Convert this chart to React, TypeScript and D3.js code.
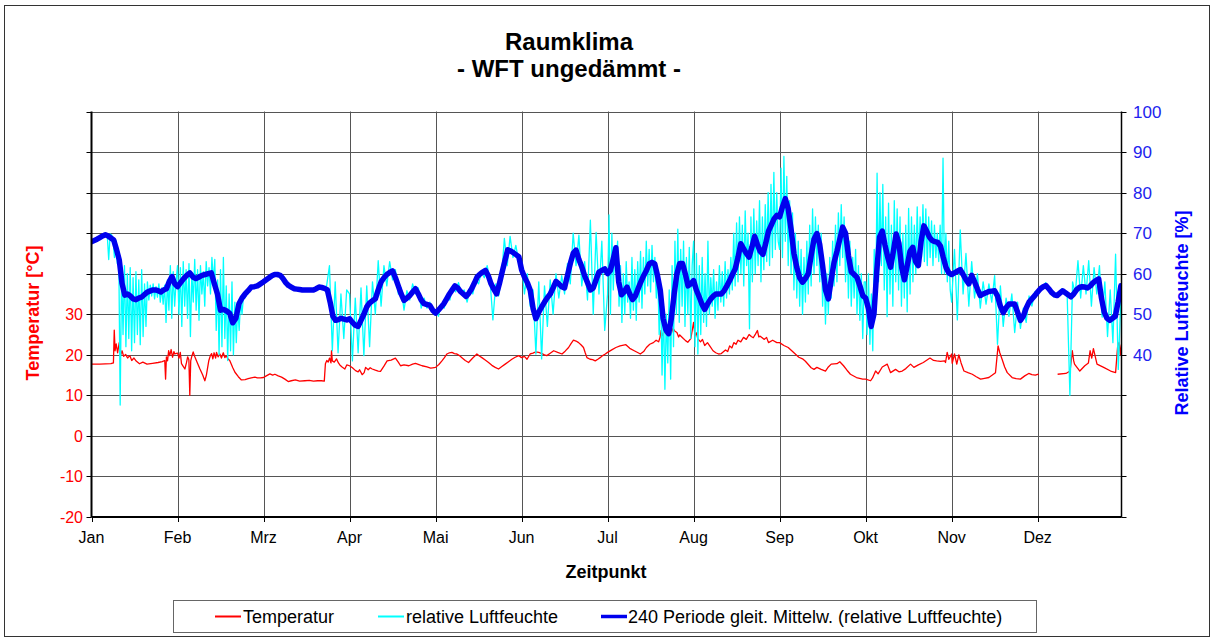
import React from "react";
import * as d3 from "d3";

// ---------- axis / category data ----------
const months = ["Jan", "Feb", "Mrz", "Apr", "Mai", "Jun", "Jul", "Aug", "Sep", "Okt", "Nov", "Dez"];
const monthDays = [31, 28, 31, 30, 31, 30, 31, 31, 30, 31, 30, 31];
const tempTickLabels = [-20, -10, 0, 10, 20, 30];
const rhTickLabels = [40, 50, 60, 70, 80, 90, 100];

// ---------- Temperatur [°C] : [Tag im Monat, Wert] ----------
const tempJan = [[1,17.7],[4,17.7],[8,17.8],[8.9,18.0],[9.2,26.1],[9.5,21.0],[9.9,22.7],[10.4,20.5],[11,23.0],[11.4,19.7],[12,21.0],[12.6,19.6],[13.3,20.1],[14,19.2],[14.8,19.8],[15.5,18.6],[16.3,19.2],[17.2,18.4],[18.3,17.8],[19.5,18.2],[21,17.7],[23,17.9],[25,18.1],[26.5,18.3],[27.4,18.6],[27.7,14.0],[28,19.5],[28.4,18.5],[28.8,21.0],[29.2,19.8],[29.7,21.3],[30.2,19.4],[30.7,20.8],[31,20.2]];
const tempFeb = [[1,20.4],[1.5,19.2],[1.9,20.6],[2.3,17.8],[2.8,17.2],[3.4,16.5],[3.9,18.0],[4.3,19.5],[4.7,18.8],[5,10.0],[5.3,18.5],[5.6,19.5],[6.1,20.7],[6.6,19.6],[7.2,18.5],[8.3,16.5],[9.2,15.0],[9.9,13.6],[10.4,15.0],[11.2,18.6],[11.7,19.8],[12.1,20.3],[12.5,19.0],[12.9,20.5],[13.4,19.2],[13.7,20.6],[14.2,19.5],[14.8,20.2],[15.3,19.2],[15.9,20.5],[16.4,19.3],[16.9,19.8],[17.4,19.0],[18,18.6],[19,16.8],[19.7,15.7],[20.8,14.6],[21.8,13.8],[23,13.9],[24,14.1],[25,14.3],[26.2,14.5],[27,14.3],[28,14.3]];
const tempMar = [[1,14.4],[2,14.8],[3.3,15.3],[4.3,15.0],[5.1,15.2],[6.3,14.8],[7.5,14.5],[8.7,14.0],[9.9,13.4],[11,13.6],[12.5,13.8],[14,13.5],[15.9,13.6],[17.5,13.7],[19,13.5],[20.5,13.6],[21.9,13.6],[22.9,13.5],[23.3,17.8],[23.8,18.6],[24.3,18.2],[24.8,19.2],[25.3,18.0],[25.5,21.0],[25.8,18.5],[26.5,18.2],[27.3,19.0],[28,18.0],[28.5,17.5],[29.3,17.0],[30.3,16.5],[31,17.5]];
const tempApr = [[1,17.3],[2,16.8],[3.1,16.1],[4,15.8],[4.5,16.3],[5.4,15.1],[6.1,15.6],[6.6,16.9],[7.5,16.3],[8.2,16.8],[8.9,16.5],[10,16.2],[11,16.0],[11.8,15.9],[13,17.2],[14.1,18.5],[15.5,18.7],[17,19.2],[18,18.2],[18.8,17.3],[20,17.5],[21.7,17.3],[23,17.7],[24,17.9],[25.2,17.6],[26.3,17.3],[28,17.0],[29.3,16.7],[30,16.8]];
const tempMai = [[1,16.9],[2.2,17.6],[3.3,18.5],[4.2,19.3],[5.1,20.2],[6,20.5],[6.9,20.6],[7.8,20.3],[8.7,20.2],[9.6,19.8],[10.5,19.3],[11.7,18.6],[12.9,18.1],[14.4,19.2],[15.9,20.2],[16.8,19.7],[17.7,19.3],[18.9,18.7],[20.1,18.1],[21.3,17.4],[22.5,16.9],[23.7,16.5],[24.9,17.1],[26.1,17.7],[27.3,18.3],[28.5,18.9],[29.7,19.4],[31,19.8]];
const tempJun = [[1,19.3],[2,19.6],[2.9,18.9],[4,20.2],[5,20.4],[5.8,20.7],[7,20.6],[8.1,20.3],[9,20.0],[9.8,19.8],[11,20.4],[12.2,21.0],[13.6,20.6],[15.1,20.2],[16.2,20.9],[17.4,21.8],[18.3,22.8],[19.1,23.6],[20,23.4],[20.9,23.0],[21.8,22.4],[22.6,21.8],[23.2,20.5],[23.8,19.3],[24.9,18.9],[25.8,18.8],[26.7,18.5],[27.6,18.9],[28.4,19.3],[29.3,19.8],[30.2,20.2]];
const tempJul = [[1,20.6],[2.5,21.2],[4,21.8],[5.5,22.2],[7.6,22.5],[9,21.6],[10.6,21.0],[12,20.5],[12.8,20.2],[14,20.8],[15,21.8],[16.2,22.6],[17.5,23.0],[18.5,23.6],[19.4,23.2],[19.9,24.3],[20.3,26.0],[20.8,24.7],[21.4,25.6],[22,25.3],[22.6,24.6],[23.2,26.0],[24,25.4],[24.6,26.5],[25.3,25.8],[26,25.5],[26.6,24.4],[27,24.9],[28.3,24.0],[29.1,23.5],[29.9,23.1],[31,24.0]];
const tempAug = [[1,28.0],[1.5,24.7],[2,25.4],[2.5,24.0],[3.5,23.2],[4.2,23.8],[5,22.3],[6,23.0],[7,22.0],[8,21.0],[9,20.5],[10,20.2],[11,20.3],[12.5,21.2],[13.3,20.8],[14,22.2],[14.8,21.7],[15.5,23.0],[16.3,22.6],[17,23.6],[18,23.2],[19,24.3],[20,23.8],[21,25.0],[21.8,24.5],[22.5,24.2],[23.3,25.1],[24,26.0],[24.5,24.4],[25,24.6],[26.5,23.8],[27.3,24.3],[28,23.0],[29.5,23.6],[31,23.0]];
const tempSep = [[1,23.0],[2.5,22.3],[4,21.8],[6,20.5],[7.7,19.4],[9,19.0],[10,18.4],[12,16.8],[13,16.4],[14,16.9],[15.5,16.4],[17,16.0],[18,17.0],[19,17.7],[21,17.8],[22,18.3],[23.3,17.3],[24.5,16.2],[25.7,15.2],[27.8,14.4],[30,14.0]];
const tempOkt = [[1,14.0],[2.8,13.6],[3.5,14.3],[4.6,16.0],[5.5,15.3],[7,17.0],[8.8,17.7],[10,15.6],[11.8,16.4],[13,15.8],[14.2,16.0],[15.5,16.6],[17.2,17.7],[18.4,16.9],[20,17.5],[21.8,18.1],[24.2,19.2],[25.5,18.6],[26.6,18.5],[28,18.4],[29.5,18.5],[29.8,18.1],[30.4,20.6],[31,18.9]];
const tempNov = [[1,20.2],[1.2,17.9],[2,20.2],[2.8,17.7],[3.5,20.0],[4.3,18.0],[5.3,16.0],[6.7,15.6],[8.2,15.2],[9.6,14.6],[11.1,14.0],[12.5,14.2],[14,14.4],[15.2,15.0],[16.3,15.6],[17.2,22.2],[17.8,20.5],[18.6,18.9],[19.5,17.0],[20.4,15.6],[22.1,14.4],[23.5,14.1],[25,14.0],[26.5,14.8],[27.9,15.4],[29,15.1],[30.2,15.0]];
const tempDez = [[1,15.2],[1.4,15.1],[1.5,NaN],[8.2,15.2],[11.2,15.4],[12.7,16.0],[13.5,21.0],[14,18.5],[14.3,17.7],[16.2,16.0],[18,17.3],[19.3,18.0],[19.9,21.0],[20.5,19.2],[21.1,21.5],[22.4,17.7],[24.8,16.9],[27.3,16.0],[29.1,15.6],[29.8,21.8],[30.4,23.1],[30.8,20.0],[31.2,22.5],[31.8,19.8]];

// ---------- relative Luftfeuchte [%] (Rohwerte, gleichmäßig im Monat) ----------
const rhJan = [67.6,68.0,68.3,67.9,68.6,68.4,69.0,68.7,69.5,69.2,69.9,69.4,63.5,69.8,69.6,68.4,64.0,68.2,62.5,65.5,27.6,61.5,45,62,42,60,44,61.5,41,59,43,60.5,45,58.5,42.5,61,44.5,57.5,47,58,53.5,57.2,54.5,57.5,53.8,56.8,54.2,57.5,53,56.5,52.5,57.2,48,58.5,51,62,49,60.5,52,58];
const rhFeb = [62,50,61.5,47,63,52,61,49,62.5,44.5,60,53,63.5,51,61,48.5,62,55,60.5,52,63,57,61.5,55,64,58,63.5,46,58.5,40,61,42,64,44,57,38.6,55,41,58,40,53,43,52,46,53.5,50,54.5,54,55.2,55,55.6,56.3,56.5,56.4,56.9,56.7,57.2,56.9,57.5,57.4];
const rhMar = [58.4,58.2,59.3,59.4,60.1,59.6,59.9,58.5,57.5,57.3,56.4,56.6,56.0,56.5,55.7,56.3,55.8,56.2,55.9,56.5,56.9,56.4,57.0,62,41,58,40.5,55,44,56];
const rhApr = [55,38.5,54,40.5,56.5,39.8,57,42,58,50,63.2,52,62,57,63,58.5,61,55,56.5,51,55.8,53.5,57.5,55,56.5,51.5,54,51.5,53,50.5];
const rhMai = [50.8,49.5,52.5,51.5,54.5,53.5,57,55.5,57.8,55,56,53,56,55,58.5,57.5,60.5,59,62,58.5,48.6,57.5,54.5,59,68.7,62,69.2,64,67,63];
const rhJun = [63,55,60,52,56,40.2,58,39,57,47,58.5,50,60,54,59.5,55,62.5,57.5,70,62,69.5,57,63,53.5,73.2,50,70.2,55,68,46];
const rhJul = [55,74.5,50,70,56,66,62,68,52,62,48,60,50,63,53,58,49,64,51,61,48.5,63,53,65.5,51.5,64,55,68,57,66,55.5,67,58,64,54,60,45,57,35,52,31.5,50,38,56,34,62,42,68,50,71,48,66,52,68,47,64,50,66.5,44,62];
const rhAug = [68,42,65,40.2,62,45,64,48,60,47,68,50,59,52,61,49,58,51,62,53,60.5,52,63,54,61,55,64,56,70,57,72.5,58,74,60,72,57,75.5,62,70,46.4,74,58,76,60,73,62,78,58,74,61,77,63,80,62,82,64,85,66,80,68];
const rhSep = [66,86,64,88.9,68,84,62,78,60,75,56,70,54,68,52,66,50,64,53,68,55,72,57,76,60,74,62,72,58,70,52,62,47.6,60,50,64,54,68,57,72,58,75,62,77,64,74,58,70,54,68,52,64,54,66,50,62,48.5,60,44,58];
const rhOkt = [58,45,60,42.6,55,41,66,50,84.8,58,80,62,82,56,74,49.4,77.4,55,72,52,78,58,76,56,74,52,70,54,72,50.6,76.1,55,74,58,72,60,76.5,62,74,64,77,63,76,62,74,64,73,62,72,64,70,63,72,60,88.5,60,70,58,68,56];
const rhNov = [53,66,48.6,70.8,55,65,52,63,54,60,51.5,58,52.5,57.5,53,59.5,42.6,57,47,54,49.5,55,45.5,53,46.5,51.5,48,54.5,52,55.5];
const rhDez = [55,56.8,56.5,57.8,56,55.8,54.3,55.2,54.8,56.3,55,54.3,30,58,55,63.2,54,62,55,63.2,52,61.5,55,62,49.3,58,44.5,56,43,64.8,36.4,55];

// ---------- 240 Periode gleit. Mittelw. (Tageswerte) ----------
const maJan = [67.9,68.2,68.5,68.9,69.3,69.6,69.3,68.8,68.3,66,63.4,57.6,54.7,55,54.5,53.8,53.6,54,54.2,54.8,55.4,55.7,56,56,55.8,55.5,56,56.3,58,59.3,57.5];
const maFeb = [56.8,57.8,58.8,59.6,60.2,59.2,58.8,59.2,59.6,59.8,60,60.2,57.5,55,51,51.2,50.8,50.2,47.9,49,52.6,54,55,55.8,56.7,56.8,57,57.5];
const maMar = [58,58.5,59,59.5,59.8,59.8,59.6,58.8,57.8,57.1,56.7,56.3,56.2,56.1,56,56,56,56,56,56.3,56.7,56.6,56.4,56,53,49.5,48.5,48.7,49,48.8,48.6];
const maApr = [48.9,48,47.3,47,48.5,50,51.8,52.8,53.3,53.8,56,58,59,59.8,60.3,60.7,59,57,55,53.4,54,54.6,55.5,56.3,55,53.5,52.6,52.4,52.2,51];
const maMai = [50.3,51,51.8,52.6,53.8,55,56,57,56.5,55.6,55,54.4,55.2,56.3,57.7,59.2,59.9,60.4,60.8,59.5,57.5,56.2,55,57.5,60.4,63.2,65.9,65.6,65.2,64.7,64.2];
const maJun = [61,59.2,57.8,56,51.5,48.9,50.5,51.8,53,54.1,55,56.5,58.1,57.5,56.8,56.5,59.5,62.5,65,65.8,63.5,61.7,59.5,57.8,56,56.5,58.5,60.4,60.8,61.2];
const maJul = [60,60.8,63.5,66.4,58,54.8,55.5,56.7,55,53.6,54.5,56.3,58,59.5,60.8,62.4,62.8,62.4,59.5,55.9,49,46.2,45.2,49,55,60,62.5,62.5,60,57,57.5];
const maAug = [58.3,56,54.3,52.5,51.2,52.5,53.6,54.4,55,55,55,55.8,57,58.3,59.8,61.2,64,67.4,66.2,65,64.1,66.5,69.2,67.2,65.5,64.8,67.5,70.5,72,73.5,74.4];
const maSep = [74,76.5,78.5,76,71,65,61.5,59,57.9,58.8,60,64.5,68.5,69.9,67.2,62,56,53.8,58.5,62.8,65.5,68.5,71.5,70,64.5,60.5,59.8,59.1,57,54.6];
const maOkt = [54,51.5,47,50,60.5,69,70.5,67,64,61.6,65.5,69.8,67.5,61.5,58.5,62,65.5,66.5,63,62,68,71.8,70.5,69,68.2,67.9,67.7,66.8,64,61.5,60.2];
const maNov = [59.8,60.2,60.6,61,59.8,58.5,57.5,59.6,58,56.2,54.6,55,55.3,55.6,55.7,55.8,54.5,52,50.4,51.6,52.5,52.5,52.5,50.5,48.5,49.5,51.5,53,53.8,54.6];
const maDez = [55.5,56.3,56.8,57.1,56.3,55.4,54.8,54.6,55.2,55.8,55.3,54.8,54.3,55,56,56.6,56.8,56.7,56.5,57,57.8,58.3,58.7,54,50.5,49,48.5,49,49.5,53,57];

const tempByMonth = [tempJan, tempFeb, tempMar, tempApr, tempMai, tempJun, tempJul, tempAug, tempSep, tempOkt, tempNov, tempDez];
const rhByMonth = [rhJan, rhFeb, rhMar, rhApr, rhMai, rhJun, rhJul, rhAug, rhSep, rhOkt, rhNov, rhDez];
const maByMonth = [maJan, maFeb, maMar, maApr, maMai, maJun, maJul, maAug, maSep, maOkt, maNov, maDez];

type P = { x: number; v: number };

const tempPts: P[] = tempByMonth.flatMap((arr, m) =>
  arr.map(([d, v]) => ({ x: m + (d - 1) / monthDays[m], v }))
);
const rhPts: P[] = rhByMonth.flatMap((arr, m) => arr.map((v, i) => ({ x: m + i / arr.length, v })));
const maPts: P[] = maByMonth.flatMap((arr, m) => arr.map((v, i) => ({ x: m + i / monthDays[m], v })));

const FONT = "'Liberation Sans', Arial, Helvetica, sans-serif";

export default function App() {
  const W = 1213;
  const H = 639;
  const left = 91.5, right = 1121.5, top = 111.5, bottom = 517;

  const x = d3.scaleLinear().domain([0, 11.975]).range([left, right]);
  const yT = d3.scaleLinear().domain([-20, 80]).range([bottom, top]);
  const yH = d3.scaleLinear().domain([0, 100]).range([bottom, top]);

  const lineT = d3.line<P>().defined((d) => !isNaN(d.v)).x((d) => x(d.x)).y((d) => yT(d.v));
  const lineH = d3.line<P>().x((d) => x(Math.min(d.x, 11.975))).y((d) => yH(d.v));

  const gridVals = d3.range(0, 101, 10);
  const monthTicks = d3.range(0, 12);

  return (
    <svg
      width={W}
      height={H}
      style={{ position: "absolute", left: 0, top: 0, background: "#fff" }}
      fontFamily={FONT}
    >
      <rect x={0} y={0} width={W} height={H} fill="#fff" />
      <rect x={4.5} y={5.5} width={1205} height={631} fill="none" stroke="#333" strokeWidth={1} />

      {/* title */}
      <text x={569} y={50} textAnchor="middle" fontSize={24} fontWeight="bold" fill="#000">Raumklima</text>
      <text x={569} y={77} textAnchor="middle" fontSize={24} fontWeight="bold" fill="#000">- WFT ungedämmt -</text>

      {/* grid */}
      <g stroke="#555" strokeWidth={1}>
        {gridVals.map((g) => (
          <line key={"h" + g} x1={left} x2={right} y1={Math.round(yH(g)) + 0.5} y2={Math.round(yH(g)) + 0.5} />
        ))}
        {monthTicks.slice(1).map((m) => (
          <line key={"v" + m} x1={Math.round(x(m)) + 0.5} x2={Math.round(x(m)) + 0.5} y1={top} y2={bottom} />
        ))}
      </g>

      {/* ticks */}
      <g stroke="#000" strokeWidth={1}>
        {gridVals.map((g) => (
          <line key={"tl" + g} x1={left - 5} x2={left} y1={Math.round(yH(g)) + 0.5} y2={Math.round(yH(g)) + 0.5} />
        ))}
        {gridVals.map((g) => (
          <line key={"tr" + g} x1={right} x2={right + 5} y1={Math.round(yH(g)) + 0.5} y2={Math.round(yH(g)) + 0.5} />
        ))}
        {monthTicks.map((m) => (
          <line key={"tb" + m} x1={Math.round(x(m)) + 0.5} x2={Math.round(x(m)) + 0.5} y1={bottom} y2={bottom + 5} />
        ))}
      </g>

      <defs>
        <clipPath id="plotClip">
          <rect x={left} y={top - 10} width={right - left} height={bottom - top + 10} />
        </clipPath>
      </defs>

      <g clipPath="url(#plotClip)" fill="none" strokeLinejoin="round">
        <path d={lineT(tempPts) || ""} stroke="#ff0000" strokeWidth={1.3} />
        <path d={lineH(rhPts) || ""} stroke="#00ffff" strokeWidth={1.3} />
        <path d={lineH(maPts) || ""} stroke="#0000ee" strokeWidth={5.5} strokeLinecap="round" />
      </g>

      {/* axes lines */}
      <line x1={left} x2={left} y1={top} y2={bottom} stroke="#000" strokeWidth={2} />
      <line x1={right} x2={right} y1={top} y2={bottom} stroke="#000" strokeWidth={1.5} />
      <line x1={left} x2={right} y1={bottom} y2={bottom} stroke="#000" strokeWidth={2} />

      {/* left tick labels */}
      {tempTickLabels.map((t) => (
        <text key={"lt" + t} x={83} y={yT(t)} dy="0.36em" textAnchor="end" fontSize={16} fill="#ff0000">{t}</text>
      ))}
      {/* right tick labels */}
      {rhTickLabels.map((h) => (
        <text key={"rt" + h} x={1133} y={yH(h)} dy="0.36em" textAnchor="start" fontSize={17} fill="#2222ee">{h}</text>
      ))}
      {/* month labels */}
      {monthTicks.map((m) => (
        <text key={"ml" + m} x={x(m)} y={543} textAnchor="middle" fontSize={16} fill="#000">{months[m]}</text>
      ))}

      {/* axis titles */}
      <text x={606} y={578} textAnchor="middle" fontSize={18} fontWeight="bold" fill="#000">Zeitpunkt</text>
      <text transform="translate(39,313) rotate(-90)" textAnchor="middle" fontSize={18} fontWeight="bold" fill="#ff0000">Temperatur [°C]</text>
      <text transform="translate(1188,313) rotate(-90)" textAnchor="middle" fontSize={18} fontWeight="bold" fill="#0000ff">Relative Luftfeuchte [%]</text>

      {/* legend */}
      <rect x={173.5} y={600.5} width={863} height={32} fill="#fff" stroke="#666" strokeWidth={1} />
      <line x1={215} x2={241} y1={616.5} y2={616.5} stroke="#ff0000" strokeWidth={2} />
      <text x={243} y={623} fontSize={18} fill="#000">Temperatur</text>
      <line x1={378} x2={404} y1={616.5} y2={616.5} stroke="#00ffff" strokeWidth={2} />
      <text x={406} y={623} fontSize={18} fill="#000">relative Luftfeuchte</text>
      <line x1={601} x2={627} y1={616.5} y2={616.5} stroke="#0000ee" strokeWidth={3.5} />
      <text x={628} y={623} fontSize={18} fill="#000">240 Periode gleit. Mittelw. (relative Luftfeuchte)</text>
    </svg>
  );
}
